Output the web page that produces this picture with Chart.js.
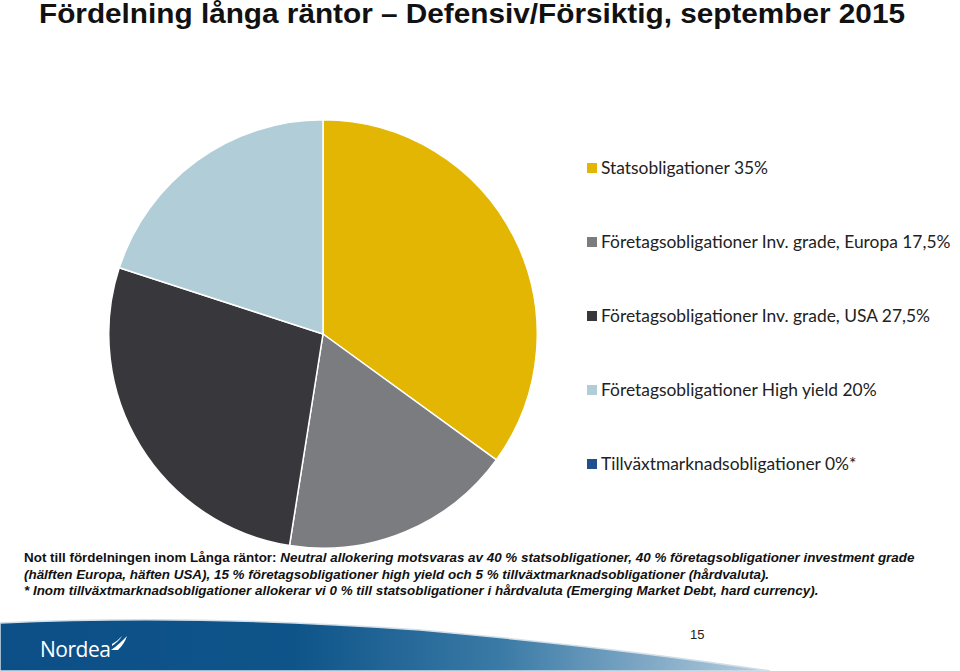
<!DOCTYPE html>
<html>
<head>
<meta charset="utf-8">
<script src="https://cdn.jsdelivr.net/npm/chart.js@4.4.0/dist/chart.umd.min.js"></script>
<style>
  html, body { margin: 0; padding: 0; background: #fff; }
  body { width: 960px; height: 671px; position: relative; overflow: hidden; }
  #title {
    position: absolute; left: 39px; top: -2px;
    font-family: "Liberation Sans", Arial, sans-serif; font-weight: bold;
    font-size: 28px; color: #111; white-space: nowrap;
    transform-origin: left top;
  }
  #pieBox { position: absolute; left: 108px; top: 119px; width: 430px; height: 430px; }
  #legend { position: absolute; left: 587px; top: 155px; }
  .item { height: 74px; display: flex; align-items: flex-start; }
  .sw { width: 10px; height: 10px; margin-top: 8px; margin-right: 4px; }
  .lbl { font-family: Lato, "Open Sans", sans-serif; font-size: 17.4px; color: #222; line-height: 26px; white-space: nowrap; }
  #note {
    position: absolute; left: 24px; top: 550px;
    font-family: "Liberation Sans Narrow", "Liberation Sans", Arial, sans-serif;
    font-weight: bold; font-size: 13.5px; line-height: 16.5px; color: #111;
    white-space: nowrap; transform-origin: left top;
  }
  #footer { position: absolute; left: 0; top: 610px; }
  #logo {
    position: absolute; left: 40px; top: 635px;
    font-family: "Open Sans", sans-serif; font-size: 21px; color: #fff; letter-spacing: -0.5px;
  }
  #sail { position: absolute; left: 109px; top: 634px; }
  #page {
    position: absolute; left: 690px; top: 627px;
    font-family: "Liberation Sans Narrow", "Liberation Sans", Arial, sans-serif; font-size: 13px; color: #222;
  }
</style>
</head>
<body>
<div id="title">Fördelning långa räntor – Defensiv/Försiktig, september 2015</div>
<div id="pieBox"><canvas id="pie"></canvas></div>
<div id="legend"></div>
<div id="note">
  <div>Not till fördelningen inom Långa räntor: <i>Neutral allokering motsvaras av 40 % statsobligationer, 40 % företagsobligationer investment grade</i></div>
  <div><i>(hälften Europa, häften USA), 15 % företagsobligationer high yield och 5 % tillväxtmarknadsobligationer (hårdvaluta).</i></div>
  <div><i>* Inom tillväxtmarknadsobligationer allokerar vi 0 % till statsobligationer i hårdvaluta (Emerging Market Debt, hard currency).</i></div>
</div>
<svg id="footer" width="960" height="61" viewBox="0 0 960 61">
  <defs>
    <linearGradient id="fg" x1="0" y1="0" x2="1" y2="0">
      <stop offset="0" stop-color="#0c4f87"/>
      <stop offset="0.38" stop-color="#0e5489"/>
      <stop offset="0.65" stop-color="#3a7aa6"/>
      <stop offset="1" stop-color="#b9cfdf"/>
    </linearGradient>
  </defs>
  <path d="M0 13 Q200 4 420 20 Q620 38 770 61 L0 61 Z" fill="url(#fg)" stroke="#d2dfe9" stroke-width="1.5"/>
</svg>
<div id="logo">Nordea</div>
<svg id="sail" width="20" height="18" viewBox="0 0 20 18">
  <path d="M2 16 C8 12 12 8 18 2 C16 8 13 12 9 16 Z" fill="#fff"/>
  <path d="M3 10 C7 8 10 5 13 2 C10 7 7 9 3 12 Z" fill="#fff"/>
</svg>
<div id="page">15</div>

<script>
// Allocation data (percent)
const categories = [
  'Statsobligationer',
  'Företagsobligationer Inv. grade, Europa',
  'Företagsobligationer Inv. grade, USA',
  'Företagsobligationer High yield',
  'Tillväxtmarknadsobligationer'
];
const values = [35, 17.5, 27.5, 20, 0];
const valueLabels = ['35%', '17,5%', '27,5%', '20%', '0%*'];
const colors = ['#e2b602', '#7a7c7f', '#38383c', '#b0cdd8', '#1f4f8c'];

// Legend (HTML, built from the arrays)
const legendEl = document.getElementById('legend');
categories.forEach((name, i) => {
  const item = document.createElement('div');
  item.className = 'item';
  item.innerHTML = '<div class="sw" style="background:' + colors[i] + '"></div>' +
    '<div class="lbl">' + name + ' ' + valueLabels[i] + '</div>';
  legendEl.appendChild(item);
});

// Fit title and note widths to reference
const title = document.getElementById('title');
const tw = title.getBoundingClientRect().width;
title.style.transform = 'scaleX(' + (866 / tw) + ')';

const note = document.getElementById('note');
const nw = note.firstElementChild.scrollWidth;
note.style.transform = 'scaleX(' + (890 / nw) + ')';

new Chart(document.getElementById('pie'), {
  type: 'pie',
  data: {
    labels: categories,
    datasets: [{
      data: values,
      backgroundColor: colors,
      borderColor: '#ffffff',
      borderWidth: 1.5
    }]
  },
  options: {
    responsive: true,
    maintainAspectRatio: false,
    animation: false,
    layout: { padding: 0 },
    plugins: {
      legend: { display: false },
      tooltip: { enabled: false }
    }
  }
});
</script>
</body>
</html>
